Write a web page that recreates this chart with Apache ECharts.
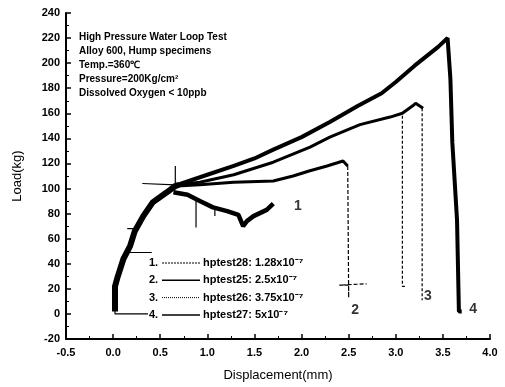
<!DOCTYPE html>
<html>
<head>
<meta charset="utf-8">
<script src="https://cdn.jsdelivr.net/npm/echarts@6/dist/echarts.min.js"></script>
<style>
  html, body { margin: 0; padding: 0; background: #fff; }
  #chart { width: 505px; height: 387px; }
</style>
</head>
<body>
<div id="chart"></div>
<script>
// common loading part, the four specimens overlap here
const riseLoad = [[0.02, 2], [0.02, 22], [0.05, 30], [0.11, 44], [0.18, 54], [0.23, 66],
  [0.32, 78], [0.42, 89], [0.57, 97], [0.66, 102], [0.70, 103]]
// thin baseline and glitches seen on the scanned record
const glitchLoad = [[0.37, 0], [0.02, 0], [0.02, 8], '-', [0.15, 49], [0.41, 49], '-', [0.15, 68], [0.25, 68], '-',
  [0.31, 104], [0.66, 103], '-', [0.66, 103], [0.66, 118], '-', [0.88, 91], [0.88, 69], '-', [1.08, 86], [1.08, 78]]

const curve1Load = [[0.64, 97], [0.79, 95], [0.92, 90], [1.06, 85], [1.21, 82], [1.33, 79], [1.38, 70],
  [1.42, 74], [1.49, 78], [1.63, 83], [1.70, 88]]
const curve2Load = [[0.68, 102], [0.92, 103], [1.28, 105], [1.70, 106], [1.91, 110], [2.08, 114],
  [2.27, 118], [2.44, 122], [2.49, 118]]
const curve3Load = [[0.68, 103], [0.92, 105], [1.28, 111], [1.70, 121], [2.09, 133], [2.30, 141],
  [2.62, 151], [2.94, 157], [3.07, 160], [3.18, 166], [3.21, 168], [3.29, 164]]
const curve4Load = [[0.68, 103], [1.0, 111], [1.28, 118], [1.5, 124], [1.7, 131], [2.0, 141], [2.3, 153],
  [2.6, 166], [2.85, 176], [3.0, 185], [3.2, 198], [3.35, 207], [3.45, 213], [3.55, 220], [3.58, 187],
  [3.60, 137], [3.65, 75], [3.67, 2], [3.70, 2]]

// final fracture drops
const curve2Drop = [[2.49, 118], [2.50, 13], [2.50, 23], [2.40, 23], [2.69, 24]]
const curve3Drop = [[3.07, 158], [3.07, 22], [3.10, 22], '-', [3.28, 164], [3.28, 11]]

const legendNames = ['hptest28: 1.28x10⁻⁷', 'hptest25: 2.5x10⁻⁷', 'hptest26: 3.75x10⁻⁷', 'hptest27: 5x10⁻⁷']
const legendDash = [[2, 1], 'solid', [1, 1], 'solid']
const curveTags = [[1.96, 86, '1'], [2.57, 3, '2'], [3.34, 14, '3'], [3.82, 4, '4']]
const noteLines = ['High Pressure Water Loop Test', 'Alloy 600, Hump specimens', 'Temp.=360℃',
  'Pressure=200Kg/cm²', 'Dissolved Oxygen < 10ppb']

const FONT = 'Liberation Sans, Arial, sans-serif'
const chart = echarts.init(document.getElementById('chart'))

const blackLine = (name, data, width, type) => ({
  name,
  type: 'line',
  data,
  symbol: 'none',
  connectNulls: false,
  lineStyle: { color: '#000', width, type: type || 'solid' },
  z: 3
})

// legend drawn by hand: number, short line sample, text
const legendGraphic = []
legendNames.forEach((name, i) => {
  const y = 263 + i * 17.3
  legendGraphic.push(
    { type: 'text', x: 149, y, style: { text: (i + 1) + '.', font: 'bold 11px ' + FONT, fill: '#000', verticalAlign: 'middle' } },
    { type: 'line', shape: { x1: 162, y1: y, x2: 200, y2: y },
      style: { stroke: '#000', lineWidth: i % 2 ? 1.5 : 1, lineDash: legendDash[i] === 'solid' ? null : legendDash[i] } },
    { type: 'text', x: 203, y, style: { text: name, font: 'bold 11px ' + FONT, fill: '#000', verticalAlign: 'middle' } }
  )
})

const option = {
  animation: false,
  backgroundColor: '#fff',
  grid: { left: 66, right: 15, top: 13, bottom: 47 },
  xAxis: {
    type: 'value',
    min: -0.5,
    max: 4.0,
    interval: 0.5,
    name: 'Displacement(mm)',
    nameLocation: 'middle',
    nameGap: 30,
    nameTextStyle: { fontFamily: FONT, fontSize: 13, color: '#000' },
    axisLine: { onZero: false, lineStyle: { color: '#000', width: 2 } },
    axisTick: { inside: true, length: 5, lineStyle: { color: '#000', width: 1.5 } },
    minorTick: { show: true, splitNumber: 2, length: 3, lineStyle: { color: '#000', width: 1 } },
    splitLine: { show: false },
    axisLabel: {
      fontFamily: FONT, fontSize: 11, fontWeight: 'bold', color: '#000', margin: 8,
      formatter: v => v.toFixed(1)
    }
  },
  yAxis: {
    type: 'value',
    min: -20,
    max: 240,
    interval: 20,
    name: 'Load(kg)',
    nameLocation: 'middle',
    nameGap: 42,
    nameTextStyle: { fontFamily: FONT, fontSize: 13, color: '#000' },
    axisLine: { show: true, onZero: false, lineStyle: { color: '#000', width: 2 } },
    axisTick: { show: true, inside: true, length: 5, lineStyle: { color: '#000', width: 1.5 } },
    minorTick: { show: true, splitNumber: 2, length: 3, lineStyle: { color: '#000', width: 1 } },
    splitLine: { show: false },
    axisLabel: { fontFamily: FONT, fontSize: 11, fontWeight: 'bold', color: '#000', margin: 6 }
  },
  graphic: [
    {
      type: 'text',
      left: 79,
      top: 30,
      style: {
        text: noteLines.join('\n'),
        font: 'bold 10px ' + FONT,
        lineHeight: 14,
        fill: '#000'
      }
    },
    ...legendGraphic
  ],
  series: [
    blackLine('rise', riseLoad, 6),
    blackLine('glitch', glitchLoad, 1.2),
    blackLine(legendNames[0], curve1Load, 4.5),
    blackLine(legendNames[1], curve2Load, 3),
    blackLine(legendNames[2], curve3Load, 3),
    blackLine(legendNames[3], curve4Load, 4),
    blackLine('drop2', curve2Drop, 1.2, [4, 2]),
    blackLine('drop3', curve3Drop, 1.2, [3, 2]),
    {
      name: 'tags',
      type: 'scatter',
      data: curveTags,
      symbolSize: 0,
      silent: true,
      label: {
        show: true,
        position: 'inside',
        formatter: p => p.data[2],
        fontFamily: FONT,
        fontSize: 14,
        fontWeight: 'bold',
        color: '#000'
      }
    }
  ]
}

chart.setOption(option)
</script>
</body>
</html>
